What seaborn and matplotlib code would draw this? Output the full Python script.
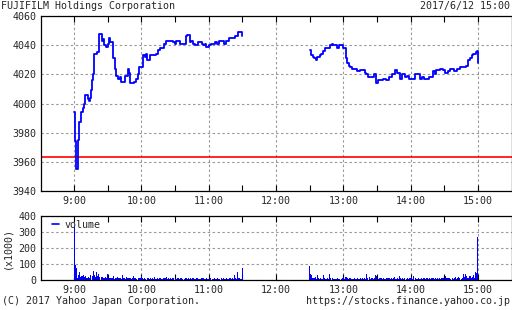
import numpy as np
import pandas as pd
import matplotlib
matplotlib.use("Agg")
import matplotlib.pyplot as plt
import seaborn as sns
from matplotlib.lines import Line2D
from matplotlib.ticker import FixedLocator

# ---- price data: (minutes after session open, price) at each change ----
am_minutes = [0, 1, 2, 3, 4, 6, 8, 9, 10, 12, 13, 14, 15, 16, 17, 18, 20, 22, 25, 26,
              27, 28, 30, 31, 32, 35, 36, 37, 39, 41, 42, 45, 48, 49, 50, 53, 55, 57,
              58, 61, 63, 64, 65, 68, 73, 75, 77, 80, 82, 88, 90, 91, 94, 100, 101,
              103, 104, 106, 108, 110, 114, 115, 117, 118, 120, 122, 126, 127, 129,
              134, 135, 138, 143, 146, 149, 150]
am_prices = [3994, 3974, 3955, 3975, 3987, 3994, 3997, 4000, 4006, 4003, 4002, 4004,
             4009, 4016, 4020, 4034, 4035, 4048, 4043, 4044, 4040, 4039, 4041, 4045,
             4042, 4031, 4024, 4019, 4017, 4018, 4015, 4019, 4024, 4021, 4014, 4015,
             4017, 4020, 4025, 4033, 4032, 4034, 4030, 4033, 4034, 4037, 4038, 4041,
             4043, 4042, 4041, 4043, 4041, 4046, 4047, 4042, 4043, 4041, 4040, 4042,
             4041, 4040, 4041, 4039, 4040, 4041, 4042, 4041, 4043, 4041, 4043, 4045,
             4046, 4049, 4049, 4046]
pm_minutes = [0, 1, 3, 4, 6, 7, 9, 10, 12, 14, 18, 20, 21, 24, 26, 30, 32, 33, 35, 36,
              38, 42, 45, 49, 50, 52, 57, 59, 61, 65, 68, 71, 73, 76, 78, 81, 82, 85,
              87, 89, 94, 98, 100, 102, 106, 110, 112, 113, 116, 119, 121, 123, 125,
              129, 131, 134, 139, 141, 143, 145, 146, 148, 149, 150]
pm_prices = [4037, 4033, 4032, 4031, 4030, 4032, 4033, 4034, 4036, 4038, 4040, 4041,
             4040, 4038, 4040, 4038, 4031, 4028, 4026, 4025, 4024, 4022, 4023, 4021,
             4020, 4018, 4020, 4014, 4016, 4017, 4016, 4018, 4020, 4023, 4021, 4017,
             4020, 4018, 4019, 4017, 4020, 4017, 4018, 4017, 4018, 4022, 4020, 4023,
             4024, 4023, 4021, 4022, 4024, 4022, 4024, 4025, 4026, 4030, 4031, 4033,
             4034, 4035, 4036, 4028]
prev_close = 3963.5

# ---- volume per minute (x1000) ----
am_volume = [330, 92, 75, 15, 30, 50, 20, 25, 30, 20, 25, 15, 10, 20, 12, 30, 25, 55,
             30, 20, 48, 25, 40, 20, 20, 18, 15, 12, 20, 10, 35, 15, 12, 15, 10, 25, 8,
             12, 15, 20, 10, 12, 8, 30, 10, 15, 8, 20, 10, 12, 15, 8, 10, 25, 12, 10, 8,
             15, 10, 12, 25, 10, 8, 12, 6, 10, 15, 8, 10, 5, 12, 8, 20, 6, 10, 8, 12, 15,
             8, 6, 10, 12, 20, 8, 10, 6, 15, 8, 10, 12, 6, 8, 15, 10, 8, 12, 10, 6, 8, 10,
             15, 8, 10, 6, 12, 8, 10, 6, 8, 12, 10, 6, 8, 5, 10, 12, 6, 8, 10, 6, 8, 5,
             10, 8, 6, 12, 8, 5, 10, 6, 8, 12, 6, 10, 8, 5, 15, 8, 6, 10, 8, 12, 6, 30,
             10, 8, 50, 10, 6, 8, 75]
pm_volume = [88, 35, 30, 10, 15, 20, 8, 30, 10, 8, 12, 6, 30, 10, 8, 6, 10, 8, 35, 12,
             10, 6, 8, 5, 8, 10, 6, 8, 5, 10, 20, 8, 20, 20, 10, 8, 12, 6, 8, 5, 10, 6,
             8, 12, 5, 10, 8, 12, 6, 10, 8, 35, 10, 20, 8, 10, 12, 6, 10, 30, 25, 8, 10,
             15, 12, 6, 10, 8, 5, 15, 12, 15, 8, 10, 6, 12, 20, 8, 10, 6, 25, 10, 8, 15,
             6, 10, 8, 15, 6, 10, 15, 20, 8, 25, 10, 6, 8, 10, 5, 8, 10, 6, 15, 8, 12, 15,
             6, 10, 8, 12, 10, 5, 12, 8, 10, 6, 12, 8, 10, 12, 8, 25, 10, 15, 12, 15, 8,
             10, 6, 12, 20, 8, 10, 20, 12, 8, 15, 35, 20, 35, 25, 15, 10, 25, 15, 20, 30,
             15, 53, 45, 270]

hour_ticks = [9, 10, 11, 12, 13, 14, 15]
hour_labels = ["9:00", "10:00", "11:00", "12:00", "13:00", "14:00", "15:00"]
price_ticks = [3940, 3960, 3980, 4000, 4020, 4040, 4060]
volume_ticks = [0, 100, 200, 300, 400]

title_left = "FUJIFILM Holdings Corporation"
title_right = "2017/6/12 15:00"
foot_left = "(C) 2017 Yahoo Japan Corporation."
foot_right = "https://stocks.finance.yahoo.co.jp"

# ---- style ----
sns.set_theme(style="white")
plt.rcParams["font.family"] = ["DejaVu Sans Mono"]
FS = 7.2
BLUE = "#0000ff"
GRID = dict(color="#999999", linestyle=(0, (2.2, 2.2)), linewidth=0.8)

W, H = 512, 310
fig = plt.figure(figsize=(W / 100, H / 100), dpi=100)
fig.patch.set_facecolor("white")

def style_axes(ax, yticks, ylim):
    ax.set_xlim(8.5, 15.5)
    ax.set_ylim(*ylim)
    ax.set_yticks(yticks)
    ax.set_xticks(hour_ticks)
    ax.set_xticklabels(hour_labels)
    ax.xaxis.set_minor_locator(FixedLocator([9.5, 10.5, 11.5, 12.5, 13.5, 14.5]))
    ax.tick_params(axis="x", which="both", direction="in", top=True, bottom=True,
                   length=4, width=0.8, color="black", labelsize=FS, pad=3.5)
    ax.tick_params(axis="y", which="both", left=False, right=False, length=0,
                   labelsize=FS, pad=3)
    ax.grid(True, which="major", **GRID)
    for s in ax.spines.values():
        s.set_color("black")
        s.set_linewidth(0.9)
    ax.set_xlabel("")
    ax.set_ylabel("")
    ax.set_facecolor("white")

# ---- price axes ----
ax = fig.add_axes([40.5 / W, 1 - 191 / H, 471 / W, 175 / H])
am = pd.DataFrame({"t": 9 + np.array(am_minutes) / 60, "price": am_prices})
pm = pd.DataFrame({"t": 12.5 + np.array(pm_minutes) / 60, "price": pm_prices})
for d in (am, pm):
    sns.lineplot(data=d, x="t", y="price", ax=ax, color=BLUE, linewidth=1.3,
                 drawstyle="steps-post", estimator=None, sort=False, legend=False)
ax.axhline(prev_close, color="#ff0000", linewidth=1.2, zorder=1)
style_axes(ax, price_ticks, (3940, 4060))

# ---- volume axes ----
ax2 = fig.add_axes([40.5 / W, 1 - 280 / H, 471 / W, 64 / H])
vol = pd.DataFrame({
    "t": np.concatenate([9 + np.arange(len(am_volume)) / 60,
                         12.5 + np.arange(len(pm_volume)) / 60]),
    "v": am_volume + pm_volume,
})
sns.histplot(data=vol, x="t", weights="v", binwidth=1 / 60,
             binrange=(9 - 0.5 / 60, 15 + 0.5 / 60), ax=ax2, color=BLUE,
             element="bars", fill=True, shrink=0.95, linewidth=0, alpha=1,
             antialiased=False, legend=False)
style_axes(ax2, volume_ticks, (0, 400))
ax2.legend(handles=[Line2D([], [], color=BLUE, linewidth=1.2)], labels=["volume"],
           loc="upper left", bbox_to_anchor=(0.018, 1.0), frameon=False, fontsize=FS,
           handlelength=0.7, handletextpad=0.5, borderaxespad=0.15, borderpad=0.2)

# ---- texts ----
fig.text(1 / W, 1 - 6 / H, title_left, ha="left", va="center", fontsize=FS)
fig.text(510 / W, 1 - 6 / H, title_right, ha="right", va="center", fontsize=FS)
fig.text(2 / W, 1 - 301 / H, foot_left, ha="left", va="center", fontsize=FS)
fig.text(510 / W, 1 - 301 / H, foot_right, ha="right", va="center", fontsize=FS)
fig.text(7 / W, 1 - 248 / H, "(x1000)", rotation=90, ha="center", va="center",
         fontsize=FS)

fig.savefig("out.png", dpi=100, facecolor="white")
